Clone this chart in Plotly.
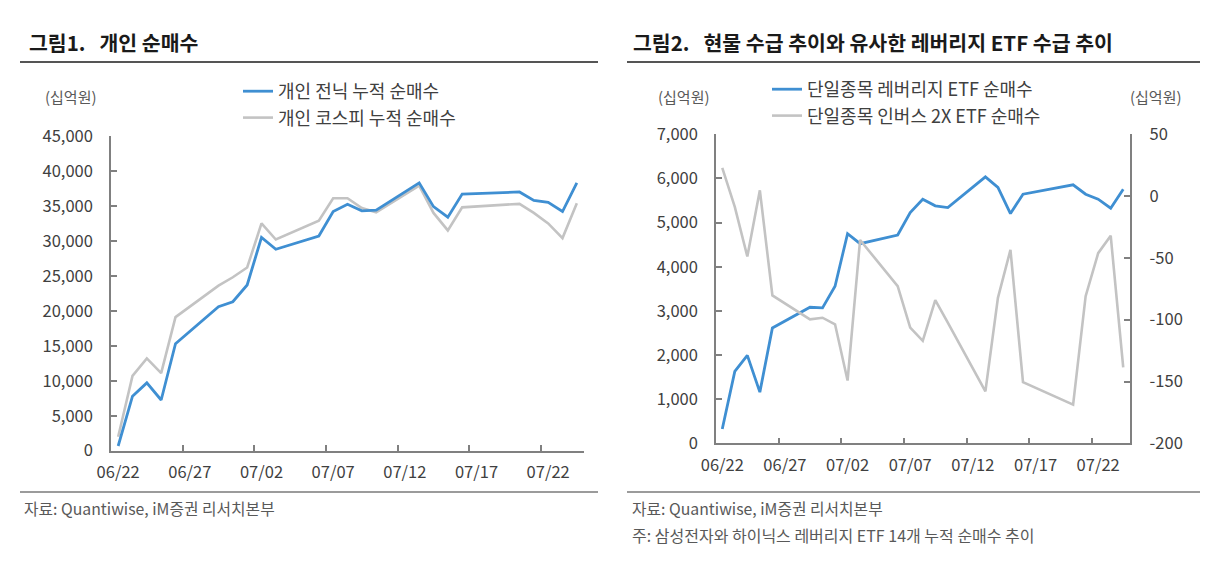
import plotly.graph_objects as go

# ---------------- data ----------------
dates = ["2026-06-22", "2026-06-23", "2026-06-24", "2026-06-25", "2026-06-26",
         "2026-06-29", "2026-06-30", "2026-07-01", "2026-07-02", "2026-07-03",
         "2026-07-06", "2026-07-07", "2026-07-08", "2026-07-09", "2026-07-10",
         "2026-07-13", "2026-07-14", "2026-07-15", "2026-07-16",
         "2026-07-20", "2026-07-21", "2026-07-22", "2026-07-23", "2026-07-24"]

# 그림1 (십억원)
indiv_chip_cum = [670, 7800, 9700, 7250, 15300, 20600, 21300, 23700, 30500, 28800,
                  30700, 34200, 35250, 34300, 34400, 38300, 34900, 33400, 36700,
                  37000, 35800, 35500, 34200, 38300]
indiv_kospi_cum = [2000, 10700, 13200, 11100, 19100, 23600, 24800, 26200, 32500, 30200,
                   32900, 36100, 36100, 34700, 34100, 37900, 34000, 31500, 34800,
                   35300, 34000, 32500, 30400, 35400]

# 그림2 (십억원)
lev_etf_net = [325, 1627, 1991, 1159, 2614, 3082, 3068, 3559, 4750, 4523,
               4718, 5227, 5530, 5379, 5341, 6036, 5795, 5205, 5643,
               5855, 5643, 5530, 5325, 5757]
inv2x_etf_net = [22.8, -8.7, -48.9, 4.7, -80.4, -99.7, -98.4, -103.7, -149.2, -35.5,
                 -72.9, -106.4, -117.1, -84.2, -102.4, -158.0, -82.3, -43.5, -150.6,
                 -168.7, -81.0, -46.2, -32.0, -138.5]

x_label_dates = ["2026-06-22", "2026-06-27", "2026-07-02", "2026-07-07",
                 "2026-07-12", "2026-07-17", "2026-07-22"]
x_tick_text = ["06/22", "06/27", "07/02", "07/07", "07/12", "07/17", "07/22"]
x_tick_marks = ["2026-06-26 12:00", "2026-07-01 12:00", "2026-07-06 12:00",
                "2026-07-11 12:00", "2026-07-16 12:00", "2026-07-21 12:00"]
x_range = ["2026-06-21 12:00", "2026-07-24 12:00"]

y2r_vals = [-200, -150, -100, -50, 0, 50]
y2r_text = ["-200", "-150", "-100", "-50", "0", "50"]

# ---------------- style ----------------
W, H = 1216, 562
FONT = "Noto Sans CJK KR"
BLUE = "#3f8fd2"
GRAY = "#c3c3c3"
AX = "#808080"
TXT = "#404040"

def px(x):
    return x / W

def py(y):
    return 1 - y / H

fig = go.Figure()

fig.add_trace(go.Scatter(x=dates, y=indiv_kospi_cum, mode="lines", name="개인 코스피 누적 순매수",
                         line=dict(color=GRAY, width=2.6), xaxis="x", yaxis="y",
                         legend="legend", legendrank=2))
fig.add_trace(go.Scatter(x=dates, y=indiv_chip_cum, mode="lines", name="개인 전닉 누적 순매수",
                         line=dict(color=BLUE, width=2.8), xaxis="x", yaxis="y",
                         legend="legend", legendrank=1))
fig.add_trace(go.Scatter(x=dates, y=lev_etf_net, mode="lines", name="단일종목 레버리지 ETF 순매수",
                         line=dict(color=BLUE, width=2.8), xaxis="x2", yaxis="y2",
                         legend="legend2", legendrank=1))
fig.add_trace(go.Scatter(x=dates, y=inv2x_etf_net, mode="lines", name="단일종목 인버스 2X ETF 순매수",
                         line=dict(color=GRAY, width=2.6), xaxis="x2", yaxis="y3",
                         legend="legend2", legendrank=2))

tickfont = dict(family=FONT, size=16.5, color=TXT)

def xaxis_cfg(domain, anchor):
    return dict(domain=domain, anchor=anchor, type="date", range=x_range, automargin=False,
                tickmode="array", tickvals=x_label_dates, ticktext=x_tick_text,
                ticks="", showline=True, linecolor=AX, linewidth=1.6,
                showgrid=False, zeroline=False, tickfont=dict(family=FONT, size=16.5, color=TXT),
                ticklabelstandoff=6,
                minor=dict(tickmode="array", tickvals=x_tick_marks, ticks="inside",
                           ticklen=6, tickwidth=1.5, tickcolor=AX, showgrid=False))

def yaxis_cfg(**kw):
    d = dict(ticks="inside", ticklen=6, tickwidth=1.5, tickcolor=AX, automargin=False,
             showline=True, linecolor=AX, linewidth=1.6, showgrid=False, zeroline=False,
             tickfont=tickfont)
    d.update(kw)
    return d

legend_font = dict(family=FONT, size=18, color=TXT)

fig.update_layout(
    width=W, height=H, autosize=False,
    margin=dict(l=0, r=0, t=0, b=0, pad=0),
    paper_bgcolor="white", plot_bgcolor="white",
    font=dict(family=FONT, color=TXT),
    xaxis=xaxis_cfg([px(111), px(584)], "y"),
    yaxis=yaxis_cfg(domain=[py(450.7), py(136)], anchor="x", range=[0, 45000], dtick=5000,
                    tickformat=",d", ticklabelstandoff=13),
    xaxis2=xaxis_cfg([px(716), px(1129.5)], "y2"),
    yaxis2=yaxis_cfg(domain=[py(443.3), py(134.3)], anchor="x2", range=[0, 7000], dtick=1000,
                     tickformat=",d", ticklabelstandoff=13),
    yaxis3=yaxis_cfg(overlaying="y2", anchor="x2", side="right", range=[-200, 50],
                     tickmode="array", tickvals=y2r_vals, ticktext=y2r_text,
                     ticklabelstandoff=15),
    legend=dict(x=px(238), y=py(73), xanchor="left", yanchor="top",
                bgcolor="rgba(0,0,0,0)", font=legend_font, tracegroupgap=0),
    legend2=dict(x=px(767), y=py(71), xanchor="left", yanchor="top",
                 bgcolor="rgba(0,0,0,0)", font=legend_font, tracegroupgap=0),
    showlegend=True,
)

ann = []
def text(x, y, s, size=15, color=TXT, xanchor="left", bold=False):
    ann.append(dict(x=px(x), y=py(y), xref="paper", yref="paper", text=(f"<b>{s}</b>" if bold else s),
                    showarrow=False, xanchor=xanchor, yanchor="middle",
                    font=dict(family=FONT, size=size, color=color)))

text(27, 42, "그림1.\u00a0\u00a0\u00a0개인 순매수", size=20.5, color="#1a1a1a", bold=True)
text(631, 42, "그림2.\u00a0\u00a0\u00a0현물 수급 추이와 유사한 레버리지 ETF 수급 추이", size=20.5, color="#1a1a1a", bold=True)
text(71, 97, "(십억원)", size=15, color="#595959", xanchor="center")
text(684, 97, "(십억원)", size=15, color="#595959", xanchor="center")
text(1156, 97, "(십억원)", size=15, color="#595959", xanchor="center")
text(22, 508, "자료: Quantiwise, iM증권 리서치본부", size=15.8, color="#595959")
text(630, 508, "자료: Quantiwise, iM증권 리서치본부", size=15.8, color="#595959")
text(630, 535, "주: 삼성전자와 하이닉스 레버리지 ETF 14개 누적 순매수 추이", size=16, color="#595959")

shapes = []
for x0, x1 in [(20, 598), (627, 1200)]:
    shapes.append(dict(type="line", xref="paper", yref="paper", x0=px(x0), x1=px(x1),
                       y0=py(62), y1=py(62), line=dict(color="#555555", width=2)))
    shapes.append(dict(type="line", xref="paper", yref="paper", x0=px(x0), x1=px(x1),
                       y0=py(492), y1=py(492), line=dict(color="#7a7a7a", width=1.5)))

fig.update_layout(annotations=ann, shapes=shapes)

fig.write_html("out.html")
